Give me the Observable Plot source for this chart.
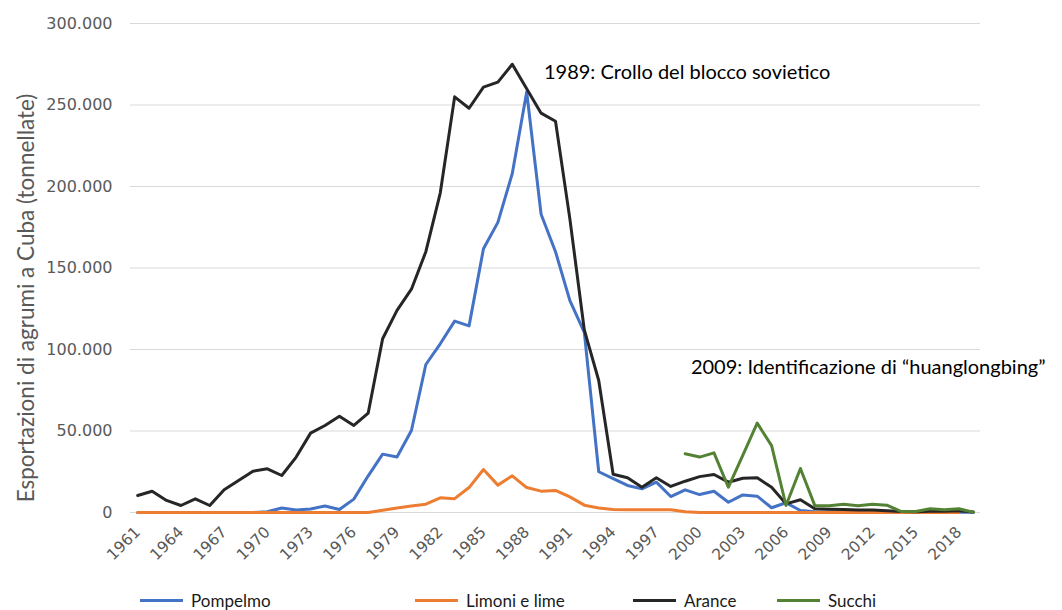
<!DOCTYPE html>
<html><head><meta charset="utf-8">
<script src="https://cdn.jsdelivr.net/npm/d3@7"></script>
<script src="https://cdn.jsdelivr.net/npm/@observablehq/plot@0.6"></script>
<style>
body{margin:0;background:#fff;}
#chart{position:relative;width:1062px;height:610px;overflow:hidden;}
#legend{position:relative;height:25px;font-family:"Lato",sans-serif;font-size:17px;color:#1a1a1a;}
.item{position:absolute;top:3px;display:flex;align-items:center;height:25px;white-space:nowrap}
.sw{width:43px;height:3px;margin-right:8px}
</style></head><body><div id="chart"></div>
<script>
const startYear = 1961;
const seriesNames = ["Pompelmo", "Limoni e lime", "Arance", "Succhi"];
const seriesColors = ["#4472C4", "#ED7D31", "#262626", "#548235"];

const pompelmo = [0,0,0,0,0,0,0,0,0,500,2800,1500,2200,4000,1800,8200,22500,35800,34000,50300,90800,103500,117400,114500,161800,178000,208000,258000,183000,160000,130000,110500,25000,20800,16600,14500,18600,9800,13900,11000,13000,6300,10800,10000,2900,6000,1200,400,300,300,300,300,300,200,200,200,200,200,200];
const limoni = [0,0,0,0,0,0,0,0,0,0,0,0,0,0,0,0,0,1400,2800,4000,5100,9000,8500,15300,26400,16800,22500,15300,13100,13500,9600,4500,2800,1800,1700,1700,1700,1700,500,0,0,0,0,0,0,0,0,0,0,0,0,0,0,0,0,0,0,0];
const arance = [10400,13000,7400,4300,8400,4300,14000,19600,25300,26800,22700,34000,48700,53400,59000,53400,61000,106600,124000,137000,160000,196000,255000,248000,261000,264000,275000,260000,245000,240000,180000,112000,81000,23500,21300,15500,21300,16000,19200,22000,23300,18600,21000,21300,15500,5300,7800,2300,2000,1800,1500,1500,1000,600,500,800,800,1000,300];
const succhiStart = 1999;
const succhi = [36000,34000,36600,15500,35000,54800,41000,4300,27000,4200,4200,5100,4100,5100,4500,600,600,2300,1700,2300,200];

const yTicks = [0,50000,100000,150000,200000,250000,300000];
const xTicks = [1961,1964,1967,1970,1973,1976,1979,1982,1985,1988,1991,1994,1997,2000,2003,2006,2009,2012,2015,2018];
const yLabel = "Esportazioni di agrumi a Cuba (tonnellate)";
const annotations = [
  {year: 1989.2, value: 270000, label: "1989: Crollo del blocco sovietico"},
  {year: 1999.4, value: 89000, label: "2009: Identificazione di “huanglongbing”"}
];

const rows = [];
[[pompelmo, startYear], [limoni, startYear], [arance, startYear], [succhi, succhiStart]].forEach(([vals, y0], k) => {
  vals.forEach((v, i) => rows.push({series: seriesNames[k], year: y0 + i, value: v}));
});

const itFmt = d3.formatLocale({decimal: ",", thousands: ".", grouping: [3], currency: ["", ""]}).format(",.0f");

const plot = Plot.plot({
  width: 1062, height: 585,
  marginLeft: 130, marginRight: 82, marginTop: 23, marginBottom: 73,
  style: {fontFamily: "'DejaVu Sans', sans-serif", fontSize: "16px", color: "#595959", background: "#fff", overflow: "visible"},
  x: {domain: [1960.5, 2019.5]},
  y: {domain: [0, 300000]},
  color: {domain: seriesNames, range: seriesColors},
  marks: [
    Plot.gridY(yTicks, {stroke: "#d9d9d9", strokeOpacity: 1, strokeWidth: 1}),
    Plot.axisY(yTicks, {tickSize: 0, tickPadding: 18, tickFormat: itFmt, fill: "#595959", fontSize: 16, label: null}),
    Plot.axisX(xTicks, {tickSize: 0, tickPadding: 17, tickRotate: -45, tickFormat: d => String(d), fill: "#595959", fontSize: 15.5, label: null}),
    Plot.line(rows, {x: "year", y: "value", z: "series", stroke: "series", strokeWidth: 3, strokeLinejoin: "round", strokeLinecap: "round"}),
    Plot.text(annotations, {x: "year", y: "value", text: "label", textAnchor: "start", fill: "#000", fontSize: 20, fontFamily: "Lato, sans-serif"}),
    Plot.text([yLabel], {frameAnchor: "left", textAnchor: "middle", rotate: -90, dx: -104, dy: 30, fill: "#595959", fontSize: 22.5, fontFamily: "Lato, sans-serif"})
  ]
});
const chart = document.getElementById("chart");
chart.appendChild(plot);

const legendLeft = [140, 415, 633, 777];
const legend = document.createElement("div");
legend.id = "legend";
seriesNames.forEach((name, i) => {
  const it = document.createElement("div");
  it.className = "item";
  it.style.left = legendLeft[i] + "px";
  const sw = document.createElement("span");
  sw.className = "sw";
  sw.style.background = seriesColors[i];
  const t = document.createElement("span");
  t.textContent = name;
  it.appendChild(sw); it.appendChild(t);
  legend.appendChild(it);
});
chart.appendChild(legend);
</script></body></html>
